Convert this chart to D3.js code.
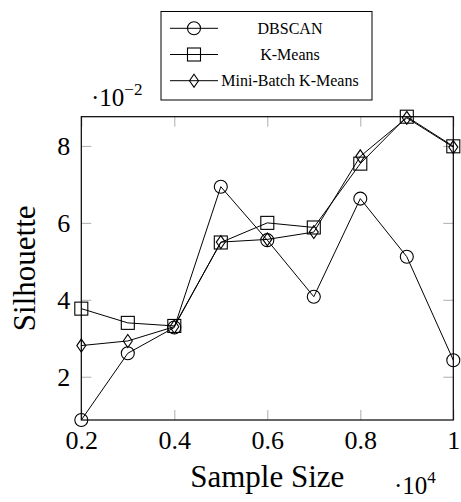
<!DOCTYPE html>
<html>
<head>
<meta charset="utf-8">
<script src="https://cdn.jsdelivr.net/npm/d3@7"></script>
<style>
  body { margin: 0; background: #fff; }
  svg { display: block; }
  text { font-family: "Liberation Serif", "Times New Roman", serif; fill: #000; }
</style>
</head>
<body>
<svg id="chart"></svg>
<script>
// sample size, in units of 10^4
var sampleSize = [0.2, 0.3, 0.4, 0.5, 0.6, 0.7, 0.8, 0.9, 1.0];
// silhouette, in units of 10^-2
var dbscan    = [0.875, 2.61, 3.28, 6.94, 5.55, 4.08, 6.63, 5.12, 2.43];
var kmeans    = [3.77, 3.40, 3.32, 5.49, 6.00, 5.88, 7.54, 8.76, 7.99];
var miniBatch = [2.81, 2.93, 3.30, 5.50, 5.57, 5.76, 7.73, 8.73, 7.97];
var seriesNames = ["DBSCAN", "K-Means", "Mini-Batch K-Means"];
var xTicks = [0.2, 0.4, 0.6, 0.8, 1];
var yTicks = [2, 4, 6, 8];

var w = 461, h = 502;
var margin = {top: 116.7, left: 81.3, right: 7.7, bottom: 82};
var width = w - margin.left - margin.right;
var height = h - margin.top - margin.bottom;

var svg = d3.select("#chart").attr("width", w).attr("height", h);
var chart = svg.append("g")
    .attr("transform", "translate(" + margin.left + "," + margin.top + ")");

var allY = dbscan.concat(kmeans, miniBatch);
var x = d3.scaleLinear().domain(d3.extent(sampleSize)).range([0, width]);
var y = d3.scaleLinear().domain(d3.extent(allY)).range([height, 0]);

var tickLen = 10;
var fmt = d3.format("~g");

// ticks point inward on all four sides
var xAxis = chart.append("g").attr("transform", "translate(0," + height + ")")
    .call(d3.axisBottom(x).tickValues(xTicks).tickSizeInner(-tickLen).tickSizeOuter(0).tickFormat(fmt));
chart.append("g")
    .call(d3.axisTop(x).tickValues(xTicks).tickSizeInner(-tickLen).tickSizeOuter(0).tickFormat(""));
var yAxis = chart.append("g")
    .call(d3.axisLeft(y).tickValues(yTicks).tickSizeInner(-tickLen).tickSizeOuter(0).tickFormat(fmt));
chart.append("g").attr("transform", "translate(" + width + ",0)")
    .call(d3.axisRight(y).tickValues(yTicks).tickSizeInner(-tickLen).tickSizeOuter(0).tickFormat(""));

chart.selectAll(".domain").remove();
chart.selectAll(".tick line").attr("stroke", "#999").attr("stroke-width", 0.8);
chart.selectAll(".tick text")
    .style("font-family", "'Liberation Serif', serif")
    .style("font-size", "26px");
xAxis.selectAll(".tick text").attr("y", 11);
yAxis.selectAll(".tick text").attr("x", -11);

// frame
chart.append("rect")
    .attr("width", width).attr("height", height)
    .attr("fill", "none").attr("stroke", "#000").attr("stroke-width", 1.2);

// markers
function circleMark(g, cx, cy) {
  g.append("circle").attr("cx", cx).attr("cy", cy).attr("r", 6.5)
    .attr("fill", "none").attr("stroke", "#000").attr("stroke-width", 1.1);
}
function squareMark(g, cx, cy) {
  g.append("rect").attr("x", cx - 6.5).attr("y", cy - 6.5).attr("width", 13).attr("height", 13)
    .attr("fill", "none").attr("stroke", "#000").attr("stroke-width", 1.1);
}
function diamondMark(g, cx, cy) {
  g.append("path")
    .attr("d", "M" + cx + "," + (cy - 6.5) + "L" + (cx + 4.5) + "," + cy + "L" + cx + "," + (cy + 6.5) + "L" + (cx - 4.5) + "," + cy + "Z")
    .attr("fill", "none").attr("stroke", "#000").attr("stroke-width", 1.1);
}

var series = [
  {name: seriesNames[0], values: dbscan, mark: circleMark},
  {name: seriesNames[1], values: kmeans, mark: squareMark},
  {name: seriesNames[2], values: miniBatch, mark: diamondMark}
];

var line = d3.line()
    .x(function(d, i) { return x(sampleSize[i]); })
    .y(function(d) { return y(d); });

series.forEach(function(s) {
  var g = chart.append("g");
  g.append("path").attr("d", line(s.values))
    .attr("fill", "none").attr("stroke", "#000").attr("stroke-width", 1);
  s.values.forEach(function(v, i) { s.mark(g, x(sampleSize[i]), y(v)); });
});

// axis labels
svg.append("text")
    .attr("x", margin.left + width / 2).attr("y", 487)
    .attr("text-anchor", "middle").style("font-size", "31px")
    .text("Sample Size");
svg.append("text")
    .attr("transform", "translate(35," + (margin.top + height / 2) + ") rotate(-90)")
    .attr("text-anchor", "middle").style("font-size", "31px")
    .text("Silhouette");

// multipliers
var mx = svg.append("text").attr("x", 394).attr("y", 494).style("font-size", "25px");
mx.append("tspan").text("\u00b710");
mx.append("tspan").style("font-size", "17px").attr("dy", -11).text("4");
var my = svg.append("text").attr("x", 91).attr("y", 106).style("font-size", "25px");
my.append("tspan").text("\u00b710");
my.append("tspan").style("font-size", "17px").attr("dy", -11).text("\u22122");

// legend
var legend = svg.append("g");
legend.append("rect")
    .attr("x", 161).attr("y", 11.5).attr("width", 211).attr("height", 88.5)
    .attr("fill", "#fff").attr("stroke", "#000").attr("stroke-width", 1);
var legendY = d3.scalePoint().domain(seriesNames).range([28.3, 80.7]);
series.forEach(function(s) {
  var cy = legendY(s.name);
  legend.append("line").attr("x1", 170).attr("x2", 218).attr("y1", cy).attr("y2", cy)
    .attr("stroke", "#000").attr("stroke-width", 1);
  s.mark(legend, 194, cy);
  legend.append("text").attr("x", 290).attr("y", cy + 5.5)
    .attr("text-anchor", "middle").style("font-size", "16px").text(s.name);
});
</script>
</body>
</html>
